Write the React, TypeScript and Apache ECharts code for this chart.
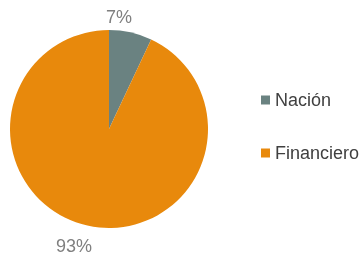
import React, { useEffect, useRef } from "react";
import * as echarts from "echarts";

const categories = ["Nación", "Financiero"];
const values = [7, 93];
const colors = ["#6a8281", "#e8890c"];
const labelShift = [
  [-31, -10],
  [11, 15],
];

export default function App() {
  const ref = useRef<HTMLDivElement>(null);
  useEffect(() => {
    const chart = echarts.init(ref.current!, null, { renderer: "svg" });
    chart.setOption({
      animation: false,
      textStyle: { fontFamily: "Liberation Sans" },
      legend: {
        orient: "vertical",
        left: 256,
        top: 86,
        icon: "rect",
        itemWidth: 9,
        itemHeight: 9,
        itemGap: 35,
        textStyle: { fontSize: 18, color: "#404040" },
        data: categories,
      },
      series: [
        {
          type: "pie",
          center: [109, 129],
          radius: 99,
          startAngle: 90,
          clockwise: true,
          data: categories.map((c, i) => ({
            name: c,
            value: values[i],
            itemStyle: { color: colors[i] },
          })),
          label: {
            show: true,
            position: "outside",
            formatter: "{d}%",
            fontSize: 18,
            color: "#7f7f7f",
          },
          labelLine: { show: false, length: 6, length2: 0 },
          labelLayout: (p: any) => ({
            dx: labelShift[p.dataIndex][0],
            dy: labelShift[p.dataIndex][1],
          }),
          emphasis: { disabled: true },
        },
      ],
    });
    return () => chart.dispose();
  }, []);
  return (
    <div
      ref={ref}
      style={{ position: "fixed", left: 0, top: 0, width: 364, height: 257 }}
    />
  );
}
